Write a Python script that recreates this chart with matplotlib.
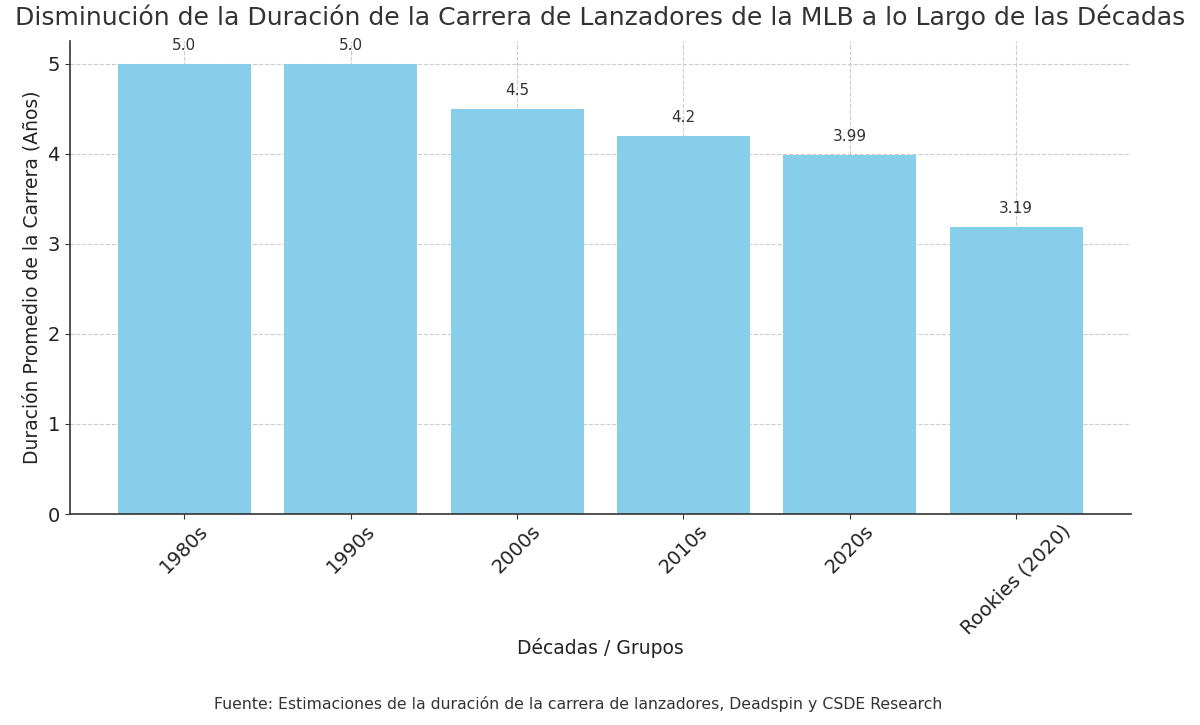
import matplotlib
matplotlib.use("Agg")
import matplotlib.pyplot as plt

categories = ["1980s", "1990s", "2000s", "2010s", "2020s", "Rookies (2020)"]
values = [5.0, 5.0, 4.5, 4.2, 3.99, 3.19]
labels = ["5.0", "5.0", "4.5", "4.2", "3.99", "3.19"]

plt.rcParams['font.family'] = ['DejaVu Sans']
fig = plt.figure(figsize=(12, 7.25), dpi=100)
ax = fig.add_axes([0.058, 0.291, 0.8845, 0.652])
x = range(len(categories))
bars = ax.bar(x, values, width=0.8, color="#87CEEB", zorder=2)
ax.set_ylim(0, 5.25)
ax.set_xticks(list(x))
ax.set_xticklabels(categories, rotation=45, fontsize=14, color="#222222")
ax.tick_params(axis='y', labelsize=14, colors="#222222")
ax.tick_params(axis='both', color="#333333")
ax.tick_params(axis='x', pad=2)
ax.grid(True, linestyle='--', color='#cccccc', linewidth=0.8, zorder=0)
for s in ['top', 'right']:
    ax.spines[s].set_visible(False)
for s in ['left', 'bottom']:
    ax.spines[s].set_color('#333333')
    ax.spines[s].set_linewidth(1.2)
for xi, v, lab in zip(x, values, labels):
    ax.annotate(lab, (xi, v), xytext=(0, 8), textcoords='offset points',
                ha='center', va='bottom', fontsize=11, color='#333333')
ax.set_title("Disminución de la Duración de la Carrera de Lanzadores de la MLB a lo Largo de las Décadas",
             fontsize=18.1, color='#333333', pad=12)
ax.set_ylabel("Duración Promedio de la Carrera (Años)", fontsize=13.5, color='#222222')
ax.set_xlabel("Décadas / Grupos", fontsize=13.5, color='#222222', labelpad=0)
fig.text(0.482, 0.022, "Fuente: Estimaciones de la duración de la carrera de lanzadores, Deadspin y CSDE Research",
         ha='center', fontsize=11.3, color='#333333')
fig.savefig("out.png", dpi=100)
